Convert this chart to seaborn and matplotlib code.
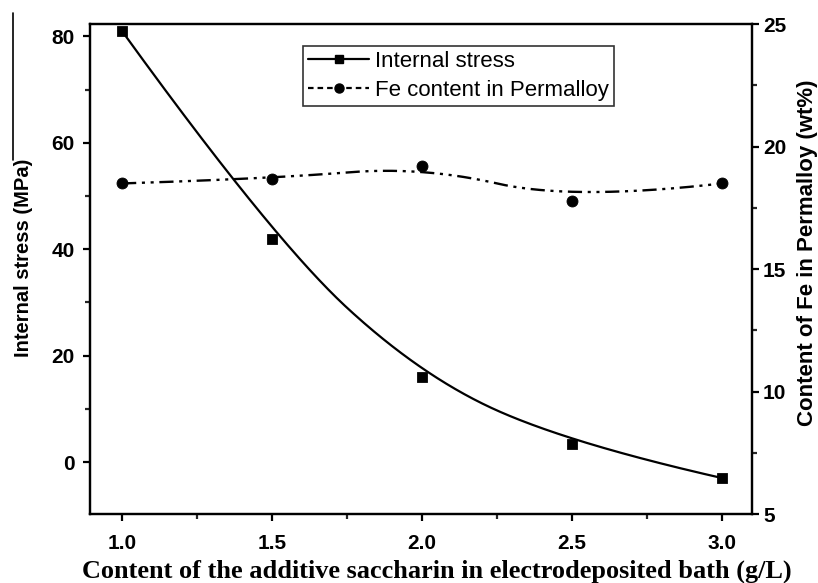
import numpy as np
import pandas as pd
import matplotlib
matplotlib.use("Agg")
import matplotlib.pyplot as plt
from matplotlib.lines import Line2D
from matplotlib.ticker import MultipleLocator
import seaborn as sns

# Measured values
saccharin = [1.0, 1.5, 2.0, 2.5, 3.0]          # g/L
stress = [81.0, 42.0, 16.0, 3.4, -3.0]         # MPa
fe_content = [18.5, 18.7, 19.2, 17.8, 18.5]    # wt%

x_ticks = [1.0, 1.5, 2.0, 2.5, 3.0]
left_ticks = [0, 20, 40, 60, 80]
right_ticks = [5, 10, 15, 20, 25]


def clamped_bspline(px, py, degree=2, n=400):
    """Clamped uniform B-spline using the data points as control points."""
    px = np.asarray(px, float)
    py = np.asarray(py, float)
    m = len(px)
    inner = np.linspace(0, 1, m - degree + 1)[1:-1]
    knots = np.concatenate([np.zeros(degree + 1), inner, np.ones(degree + 1)])
    t = np.linspace(0, 1 - 1e-9, n)

    def basis(i, k, tt):
        if k == 0:
            return np.where((knots[i] <= tt) & (tt < knots[i + 1]), 1.0, 0.0)
        out = np.zeros_like(tt)
        d1 = knots[i + k] - knots[i]
        d2 = knots[i + k + 1] - knots[i + 1]
        if d1 > 0:
            out += (tt - knots[i]) / d1 * basis(i, k - 1, tt)
        if d2 > 0:
            out += (knots[i + k + 1] - tt) / d2 * basis(i + 1, k - 1, tt)
        return out

    B = np.array([basis(i, degree, t) for i in range(m)])
    cx, cy = B.T @ px, B.T @ py
    return np.append(cx, px[-1]), np.append(cy, py[-1])


points = pd.DataFrame({"saccharin": saccharin, "stress": stress, "fe": fe_content})

sx, sy = clamped_bspline(saccharin, stress)
stress_curve = pd.DataFrame({"saccharin": sx, "stress": sy})
bx, by = clamped_bspline(saccharin, fe_content)
fe_curve = pd.DataFrame({"saccharin": bx, "fe": by})

sns.set_theme(style="ticks")
plt.rcParams["font.family"] = ["Liberation Sans", "DejaVu Sans"]
plt.rcParams["axes.linewidth"] = 1.6
plt.rcParams["text.color"] = "black"
plt.rcParams["axes.labelcolor"] = "black"

fig = plt.figure(figsize=(8.18, 5.83), dpi=100)
ax = fig.add_axes([0.110, 0.118, 0.8093, 0.8405])
ax2 = ax.twinx()

dash_dot_dot = (6.0, 2.4, 1.3, 2.4, 1.3, 2.4)

sns.lineplot(data=stress_curve, x="saccharin", y="stress", ax=ax,
             color="black", linewidth=1.6, sort=False, estimator=None)
sns.scatterplot(data=points, x="saccharin", y="stress", ax=ax,
                marker="s", s=52, color="black", edgecolor="black", zorder=5)

sns.lineplot(data=fe_curve, x="saccharin", y="fe", ax=ax2,
             color="black", linewidth=1.7, sort=False, estimator=None)
ax2.lines[-1].set_dashes(dash_dot_dot)
sns.scatterplot(data=points, x="saccharin", y="fe", ax=ax2,
                marker="o", s=62, color="black", edgecolor="black", zorder=5)

ax.set_xlim(0.893, 3.1)
ax.set_ylim(-9.8, 82.3)
ax2.set_ylim(5, 25)

ax.set_xticks(x_ticks)
ax.set_xticklabels([f"{v:.1f}" for v in x_ticks])
ax.set_yticks(left_ticks)
ax2.set_yticks(right_ticks)
ax.xaxis.set_minor_locator(MultipleLocator(0.25))
ax.yaxis.set_minor_locator(MultipleLocator(10))
ax2.yaxis.set_minor_locator(MultipleLocator(2.5))

for a in (ax, ax2):
    a.tick_params(which="major", direction="out", length=5, width=1.6,
                  labelsize=15, colors="black")
    a.tick_params(which="minor", direction="out", length=3.5, width=1.6)
    for lbl in a.get_xticklabels() + a.get_yticklabels():
        lbl.set_fontweight("bold")
    for s in a.spines.values():
        s.set_visible(True)
        s.set_color("black")
        s.set_linewidth(1.6)
ax.tick_params(axis="x", which="major", pad=9.5)
ax.tick_params(axis="y", which="major", pad=6)
ax2.tick_params(axis="y", which="major", pad=3)
ax2.tick_params(axis="y", which="both", left=False, right=True)

ax.set_xlabel("Content of the additive saccharin in electrodeposited bath (g/L)",
              family=["Liberation Serif", "DejaVu Serif"], fontweight="bold",
              fontsize=18.9)
ax.xaxis.set_label_coords(0.524, -0.092)
ax.set_ylabel("Internal stress (MPa)", fontweight="bold", fontsize=14.5)
ax.yaxis.set_label_coords(-0.086, 0.524)
ax2.set_ylabel("Content of Fe in Permalloy (wt%)", fontweight="bold",
               fontsize=16)
ax2.yaxis.set_label_coords(1.068, 0.533)

handles = [
    Line2D([], [], color="black", linewidth=1.6, marker="s", markersize=6),
    Line2D([], [], color="black", linewidth=1.6, marker="o", markersize=6.5,
           dashes=(2.5, 1.8)),
]
leg = ax.legend(handles, ["Internal stress", "Fe content in Permalloy"],
                loc="upper left", bbox_to_anchor=(0.322, 0.955),
                frameon=True, fancybox=False, fontsize=16,
                handlelength=2.75, handletextpad=0.27, borderpad=0.22,
                labelspacing=0.36, borderaxespad=0)
leg.get_frame().set_edgecolor("black")
leg.get_frame().set_linewidth(1.2)

# Border fragment on the left edge of the figure
fig.add_artist(Line2D([13 / 818, 13 / 818], [1 - 13 / 583, 1 - 160 / 583],
                      color="black", linewidth=1.2))

fig.savefig("out.png", dpi=100)
